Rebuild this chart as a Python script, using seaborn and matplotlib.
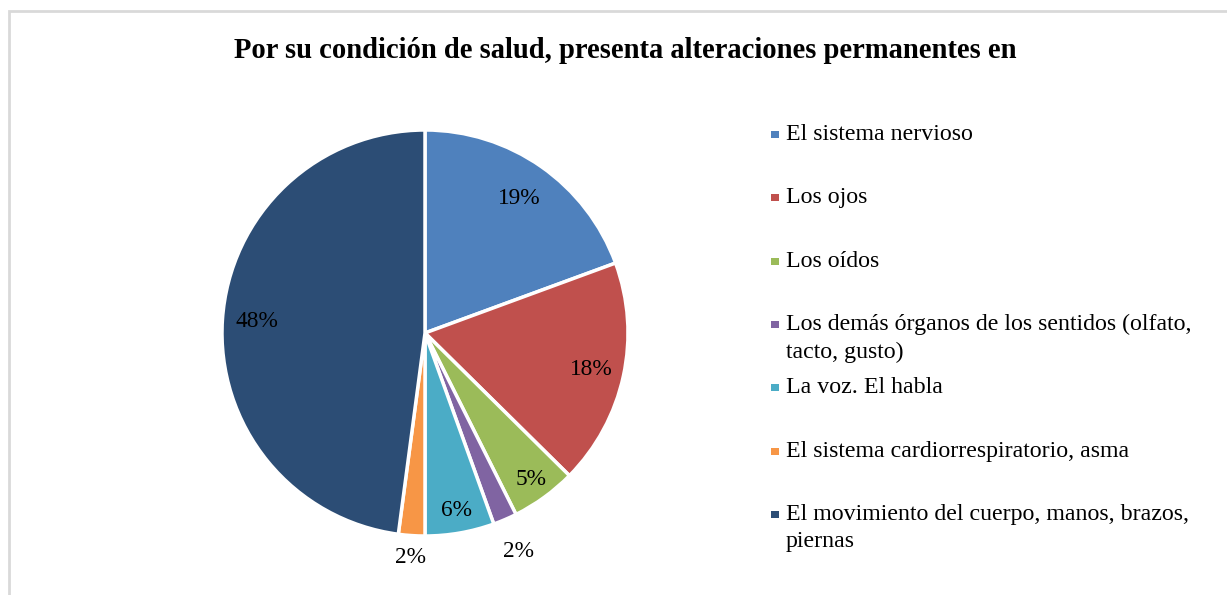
import matplotlib
matplotlib.use("Agg")
import matplotlib.pyplot as plt
import seaborn as sns
import numpy as np
from matplotlib.patches import Rectangle

# Data
categories = [
    "El sistema nervioso",
    "Los ojos",
    "Los oídos",
    "Los demás órganos de los sentidos (olfato,\ntacto, gusto)",
    "La voz. El habla",
    "El sistema cardiorrespiratorio, asma",
    "El movimiento del cuerpo, manos, brazos,\npiernas",
]
shares = [19.4, 18.0, 5.2, 1.9, 5.5, 2.1, 47.9]
pct_labels = ["19%", "18%", "5%", "2%", "6%", "2%", "48%"]
colors = ["#4F81BD", "#C0504D", "#9BBB59", "#8064A2", "#4BACC6", "#F79646", "#2C4D75"]
label_dist = [0.81, 0.84, 0.89, 1.17, 0.89, 1.11, 0.83]

title = "Por su condición de salud, presenta alteraciones permanentes en"

sns.set_theme(style="white")
plt.rcParams["font.family"] = ["Liberation Serif", "DejaVu Serif"]

W, H = 1227, 595
fig = plt.figure(figsize=(W / 100, H / 100), dpi=100)
fig.patch.set_facecolor("white")

# chart frame (only top/left edges fall inside the image)
fig.add_artist(Rectangle((9 / W, -0.1), 1.2, (H - 11) / H + 0.1, transform=fig.transFigure,
                         facecolor="none", edgecolor="#D9D9D9", linewidth=2))

cx, cy, r = 425, 333, 203
ax = fig.add_axes([(cx - r) / W, (H - cy - r) / H, 2 * r / W, 2 * r / H])
wedges, _ = ax.pie(shares, colors=colors, startangle=90, counterclock=False,
                   wedgeprops=dict(edgecolor="white", linewidth=2.5))
ax.set_xlim(-1, 1)
ax.set_ylim(-1, 1)
ax.set_aspect("equal")
ax.axis("off")

for w, lab, d in zip(wedges, pct_labels, label_dist):
    ang = np.deg2rad((w.theta1 + w.theta2) / 2)
    ax.text(d * np.cos(ang), d * np.sin(ang), lab, ha="center", va="center",
            fontsize=16.8, color="black", clip_on=False)

fig.text(625 / W, 1 - 51 / H, title, ha="center", va="center",
         fontsize=20.6, fontweight="bold", color="black")

# legend: first lines evenly spaced, markers at first line
y0, dy = 134, 63.3
for i, (cat, c) in enumerate(zip(categories, colors)):
    yc = y0 + i * dy
    fig.add_artist(Rectangle((771 / W, 1 - (yc + 4) / H), 8 / W, 7 / H,
                             transform=fig.transFigure, facecolor=c, edgecolor="none"))
    fig.text(786 / W, 1 - (yc - 10) / H, cat, ha="left", va="top",
             fontsize=17.2, color="black", linespacing=1.4)

fig.savefig("out.png", dpi=100)
